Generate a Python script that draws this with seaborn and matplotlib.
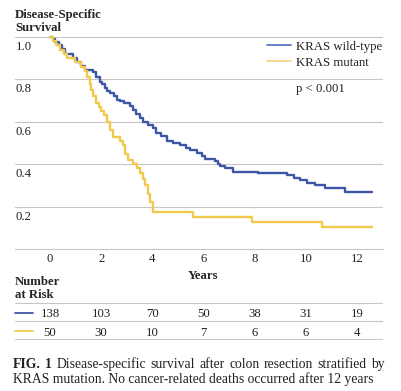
import matplotlib
matplotlib.use('Agg')
import numpy as np
import pandas as pd
import matplotlib.pyplot as plt
import seaborn as sns
from matplotlib.lines import Line2D

# Kaplan-Meier steps (years, survival after step)
wt_time = [0, 0.1, 0.2, 0.35, 0.47, 0.59, 0.9, 1.05, 1.2, 1.37, 1.68, 1.8, 1.95, 2.03,
           2.15, 2.23, 2.34, 2.5, 2.62, 2.73, 2.9, 3.13, 3.24, 3.35, 3.5, 3.65, 3.85,
           4.02, 4.15, 4.35, 4.57, 4.8, 5.08, 5.3, 5.47, 5.74, 5.95, 6.05, 6.45, 6.55,
           6.64, 6.84, 7.15, 8.13, 9.26, 9.53, 9.77, 10.04, 10.35, 10.74, 11.52, 12.6]
wt_surv = [1.0, 0.99, 0.978, 0.964, 0.942, 0.92, 0.90, 0.88, 0.865, 0.845, 0.835, 0.81,
           0.79, 0.78, 0.76, 0.745, 0.735, 0.72, 0.705, 0.70, 0.69, 0.675, 0.655, 0.635,
           0.62, 0.60, 0.585, 0.57, 0.545, 0.535, 0.51, 0.50, 0.49, 0.475, 0.465, 0.455,
           0.44, 0.425, 0.415, 0.40, 0.39, 0.38, 0.365, 0.358, 0.35, 0.335, 0.325, 0.31,
           0.30, 0.29, 0.268, 0.268]

mut_time = [0, 0.1, 0.25, 0.4, 0.55, 0.66, 0.98, 1.2, 1.35, 1.45, 1.55, 1.62, 1.68, 1.8,
            1.9, 2.0, 2.1, 2.23, 2.35, 2.46, 2.75, 2.85, 2.95, 3.05, 3.25, 3.4, 3.5, 3.63,
            3.7, 3.83, 3.9, 4.02, 5.59, 7.89, 10.63, 12.6]
mut_surv = [1.0, 0.98, 0.96, 0.94, 0.92, 0.90, 0.88, 0.86, 0.84, 0.81, 0.78, 0.75, 0.72,
            0.69, 0.67, 0.65, 0.63, 0.60, 0.56, 0.53, 0.51, 0.49, 0.45, 0.42, 0.40, 0.38,
            0.36, 0.33, 0.30, 0.26, 0.22, 0.175, 0.15, 0.127, 0.104, 0.104]

risk_years = [0, 2, 4, 6, 8, 10, 12]
risk_wt = [138, 103, 70, 50, 38, 31, 19]
risk_mut = [50, 30, 10, 7, 6, 6, 4]

labels = ['KRAS wild-type', 'KRAS mutant']
blue = '#3d56a6'
yellow = '#f2c94c'

sns.set_theme(style='white')
plt.rcParams['font.family'] = ['Liberation Serif', 'DejaVu Serif']

W, H = 402, 391
fig = plt.figure(figsize=(W / 100, H / 100), dpi=100)
fig.patch.set_facecolor('white')

def fx(x):
    return x / W

def fy(y):
    return 1 - y / H

fs = 9.2
cap_fs = 9.8
txt_c = '#222222'
grid_c = '#c6c6c6'

# main axes: x 15..383 px, y=0 at 249 px, 212 px per unit
ppy = 25.58
xmin, xmax = (15 - 50) / ppy, (383 - 50) / ppy
ytop = 1.01
ax = fig.add_axes([fx(15), fy(249), (383 - 15) / W, ytop * 212 / H])

df = pd.concat([
    pd.DataFrame({'year': wt_time, 'surv': wt_surv, 'group': labels[0]}),
    pd.DataFrame({'year': mut_time, 'surv': mut_surv, 'group': labels[1]}),
])
for grp, col in zip(labels, [blue, yellow]):
    sns.lineplot(data=df[df.group == grp], x='year', y='surv', ax=ax, color=col,
                 lw=1.7, drawstyle='steps-post', estimator=None, clip_on=False)

ax.set_xlim(xmin, xmax)
ax.set_ylim(0, ytop)
ax.set_yticks([0.2, 0.4, 0.6, 0.8, 1.0])
ax.set_yticklabels([])
ax.tick_params(axis='y', length=0)
ax.grid(axis='y', color=grid_c, lw=0.8)
ax.set_axisbelow(True)
ax.set_xticks(risk_years)
ax.tick_params(axis='x', direction='in', length=4.3, width=0.8, color=grid_c,
               labelsize=fs, pad=3, labelcolor=txt_c)
for s in ['top', 'left', 'right']:
    ax.spines[s].set_visible(False)
ax.spines['bottom'].set_color(grid_c)
ax.spines['bottom'].set_linewidth(0.8)
ax.set_xlabel('')
ax.set_ylabel('')

for v in [0.2, 0.4, 0.6, 0.8, 1.0]:
    fig.text(fx(16), fy(249 - v * 212 + 13), f'{v:.1f}', fontsize=fs,
             va='baseline', ha='left', color=txt_c)

# titles
fig.text(fx(15), fy(18), 'Disease-Specific', fontsize=fs, weight='bold', va='baseline')
fig.text(fx(15), fy(31), 'Survival', fontsize=fs, weight='bold', va='baseline')
fig.text(fx(203), fy(279), 'Years', fontsize=fs, weight='bold', va='baseline', ha='center')

# legend
for (yl, yt), lab, col in zip([(45, 50), (61, 66)], labels, ['#5b79bf', '#f7d68a']):
    fig.add_artist(Line2D([fx(267), fx(291)], [fy(yl), fy(yl)], color=col, lw=1.3))
    fig.text(fx(296), fy(yt), lab, fontsize=fs, va='baseline', color=txt_c)
fig.text(fx(296), fy(92), 'p < 0.001', fontsize=fs, va='baseline', color=txt_c)

# number at risk table
fig.text(fx(15), fy(285), 'Number', fontsize=fs, weight='bold', va='baseline')
fig.text(fx(15), fy(298), 'at Risk', fontsize=fs, weight='bold', va='baseline')
ax2 = fig.add_axes([fx(15), fy(340), (383 - 15) / W, 38 / H])
ax2.set_xlim(xmin, xmax)
ax2.set_ylim(38, 0)
ax2.axis('off')
for yy in [1, 19, 37]:
    ax2.axhline(yy, color=grid_c, lw=0.8)
for row, counts, col in [(0, risk_wt, blue), (1, risk_mut, yellow)]:
    ymid = 11 + row * 18
    ax2.plot([xmin, (33 - 50) / ppy], [ymid, ymid], color=col, lw=1.3, clip_on=False)
    for t, n in zip(risk_years, counts):
        ax2.text(t, 15 + row * 19, str(n), ha='center', va='baseline',
                 fontsize=fs, color=txt_c)

# caption, first line justified
renderer = fig.canvas.get_renderer()
words = [('FIG.', 'bold'), ('1', 'bold'), ('Disease-specific', 'normal'),
         ('survival', 'normal'), ('after', 'normal'), ('colon', 'normal'),
         ('resection', 'normal'), ('stratified', 'normal'), ('by', 'normal')]
texts = [fig.text(0, fy(368), w, fontsize=cap_fs, weight=wt, va='baseline', color=txt_c)
         for w, wt in words]
widths = [t.get_window_extent(renderer).width for t in texts]
gap = (372 - sum(widths)) / (len(words) - 1)
xpos = 13
for t, wd in zip(texts, widths):
    t.set_x(fx(xpos))
    xpos += wd + gap
fig.text(fx(13), fy(383), 'KRAS mutation. No cancer-related deaths occurred after 12 years',
         fontsize=cap_fs, va='baseline', color=txt_c)

fig.savefig('out.png', dpi=100, facecolor='white')
